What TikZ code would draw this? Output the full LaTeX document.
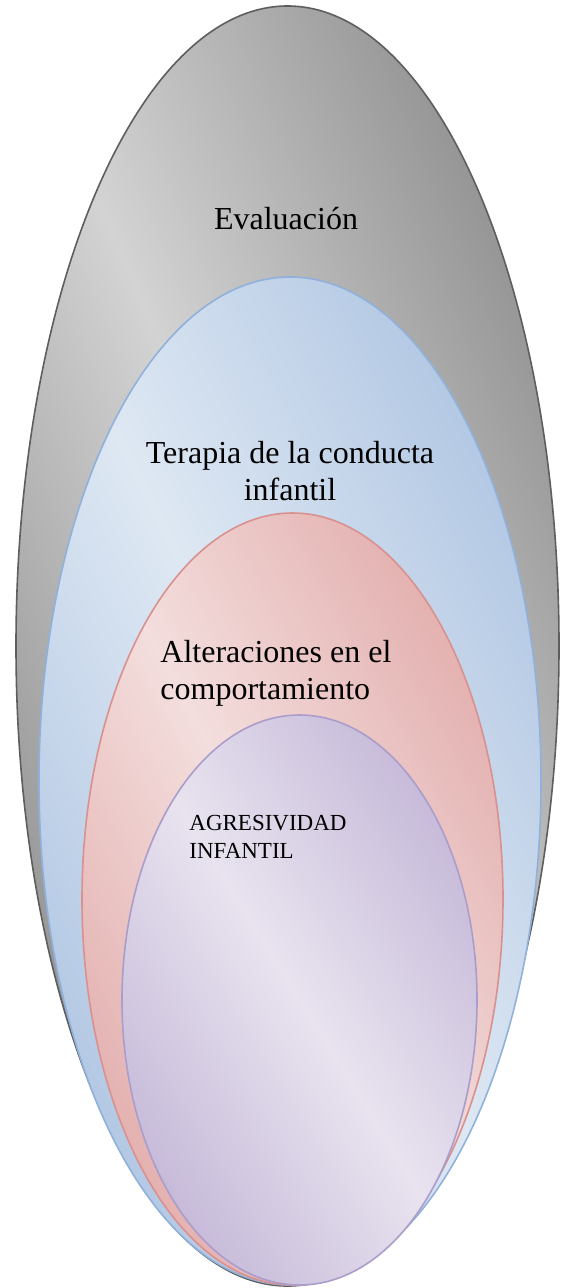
\documentclass[tikz,border=0pt]{standalone}
\usepackage{fontspec}
\setmainfont{Liberation Serif}
\usetikzlibrary{positioning}
\usepackage{xcolor}

\definecolor{evalLight}{HTML}{D3D3D3}
\definecolor{evalDark}{HTML}{7E7E7E}
\definecolor{evalLine}{HTML}{5E5E5E}
\definecolor{terLight}{HTML}{DEE8F3}
\definecolor{terDark}{HTML}{A3BCDE}
\definecolor{terLine}{HTML}{8FB1DB}
\definecolor{altLight}{HTML}{F3DEDD}
\definecolor{altDark}{HTML}{DDA09F}
\definecolor{altLine}{HTML}{D8918F}
\definecolor{agrLight}{HTML}{E8E3EF}
\definecolor{agrDark}{HTML}{BAABD1}
\definecolor{agrLine}{HTML}{AB9DCA}

\pgfdeclarehorizontalshading{evalShade}{100bp}{color(0bp)=(evalDark); color(15bp)=(evalDark); color(50bp)=(evalLight); color(85bp)=(evalDark); color(100bp)=(evalDark)}
\pgfdeclarehorizontalshading{terShade}{100bp}{color(0bp)=(terDark); color(15bp)=(terDark); color(50bp)=(terLight); color(85bp)=(terDark); color(100bp)=(terDark)}
\pgfdeclarehorizontalshading{altShade}{100bp}{color(0bp)=(altDark); color(15bp)=(altDark); color(50bp)=(altLight); color(85bp)=(altDark); color(100bp)=(altDark)}
\pgfdeclarehorizontalshading{agrShade}{100bp}{color(0bp)=(agrDark); color(15bp)=(agrDark); color(50bp)=(agrLight); color(85bp)=(agrDark); color(100bp)=(agrDark)}

\begin{document}
\begin{tikzpicture}[x=0.5pt, y=-0.5pt,
		ring/.style={line width=0.8pt},
		% the shading is stretched with the disc, as in the office drawing
		disc/.style n args={5}{shading=#1, shading angle=45,
			transform canvas={shift={(#2,#3)}, xscale=#4/100, yscale=#5/100}},
		bigtext/.style={font=\fontsize{16}{18.5}\selectfont, inner sep=0pt},
		smalltext/.style={font=\fontsize{11.5}{14}\selectfont, inner sep=0pt}]
		\useasboundingbox (0,0) rectangle (568,1288);
		\begin{scope}
			\shade[disc={evalShade}{287.5}{646}{271.5}{640}] (0,0) circle [radius=100];
			\draw[ring, evalLine] (287.5,646) ellipse [x radius=271.5, y radius=640];
			\shade[disc={terShade}{290}{781}{251}{504}] (0,0) circle [radius=100];
			\draw[ring, terLine] (290,781) ellipse [x radius=251, y radius=504];
			\shade[disc={altShade}{292.5}{899}{210.5}{386}] (0,0) circle [radius=100];
			\draw[ring, altLine] (292.5,899) ellipse [x radius=210.5, y radius=386];
			\shade[disc={agrShade}{299.5}{1000}{177.5}{285}] (0,0) circle [radius=100];
			\draw[ring, agrLine] (299.5,1000) ellipse [x radius=177.5, y radius=285];
		\end{scope}
		\begin{scope}
			\node[bigtext, anchor=base] (eval) at (286,230) {Evaluación};
			\node[bigtext, anchor=base, align=center] (terapia) at (290,500) {Terapia de la conducta\\infantil};
			\node[bigtext, anchor=base west, align=left] (alter) at (160,699) {Alteraciones en el\\comportamiento};
			\node[smalltext, anchor=base west, align=left] (agres) at (189,858) {AGRESIVIDAD\\INFANTIL};
		\end{scope}
	\end{tikzpicture}
\end{document}
